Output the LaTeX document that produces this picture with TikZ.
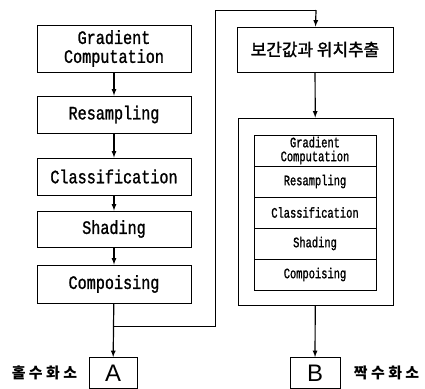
\documentclass[tikz,border=0pt]{standalone}
\usepackage{fontspec}
\usepackage{tikz}
\usetikzlibrary{arrows,positioning}
\newfontfamily\krfont{Noto Sans CJK KR}
\newfontfamily\krmidfont[FakeBold=1.6]{Noto Sans CJK KR}
\newfontfamily\stagefont[FakeStretch=0.8,FakeBold=1.2]{Liberation Mono}
\newfontfamily\substagefont[FakeStretch=0.72,FakeBold=1.2]{Liberation Mono}
\newfontfamily\pixfont{Liberation Sans}
\newcommand{\Kor}[1]{{\krfont\bfseries #1}}

\begin{document}
\begin{tikzpicture}[x=1bp,y=-1bp,>=latex,
  stage/.style={draw=black,line width=0.9bp,minimum width=154bp,align=center,
    inner sep=0pt,font=\stagefont\fontsize{19}{19}\selectfont},
  substage/.style={draw=black,line width=0.9bp,minimum width=122bp,minimum height=31bp,
    align=center,inner sep=0pt,font=\substagefont\fontsize{14.5}{14}\selectfont},
  pixbox/.style={draw=black,line width=0.9bp,minimum height=31bp,inner sep=0pt,
    font=\pixfont\fontsize{24}{24}\selectfont},
  flow/.style={->,line width=1.2bp}]
\useasboundingbox (0,0) rectangle (425,389);
% left column
\node (grad) [stage,minimum height=47bp] at (114,48.5) {Gradient\\Computation};
\node (resamp) [stage,minimum height=37bp] at (114,114.5) {Resampling};
\node (classif) [stage,minimum height=37bp] at (114,176.5) {Classification};
\node (shade) [stage,minimum height=36bp] at (114,229) {Shading};
\node (comp) [stage,minimum height=38bp] at (114,284) {Compoising};
\node (pixA) [pixbox,minimum width=48bp] at (113,373) {A};
\node (oddlbl) [left=8bp of pixA] {\Kor{\fontsize{15}{15}\selectfont 홀 수 화 소}};
%
\path[flow] (grad) edge (resamp);
\path[flow] (resamp) edge (classif);
\path[flow] (classif) edge (shade);
\path[flow] (shade) edge (comp);
\path[flow] (comp) edge (pixA);
% right column
\node (interp) [stage,minimum width=156bp,minimum height=45bp] at (315,49.5)
  {{\krmidfont\fontsize{17}{17}\selectfont 보간값과 위치추출}};
\node (outer) [draw=black,line width=0.9bp,minimum width=155bp,minimum height=187bp]
  at (315.5,211.5) {};
\node (sgrad) [substage] at (315,150.5) {Gradient\\Computation};
\node (sresamp) [substage] at (315,181.5) {Resampling};
\node (sclassif) [substage] at (315,212.5) {Classification};
\node (sshade) [substage] at (315,243.5) {Shading};
\node (scomp) [substage] at (315,274.5) {Compoising};
\node (pixB) [pixbox,minimum width=50bp] at (315,373) {B};
\node (evenlbl) [right=10bp of pixB] {\Kor{\fontsize{15}{15}\selectfont 짝 수 화 소}};
%
\coordinate (split) at (114,326);
\coordinate (low) at (215,326);
\coordinate (high) at (215,10);
\coordinate (over) at (316,10);
\draw[line width=0.9bp] (split) -- (low) -- (high) -- (over);
\path[flow] (over) edge (interp);
\path[flow] (interp) edge (outer);
\path[flow] (outer) edge (pixB);
\end{tikzpicture}
\end{document}
